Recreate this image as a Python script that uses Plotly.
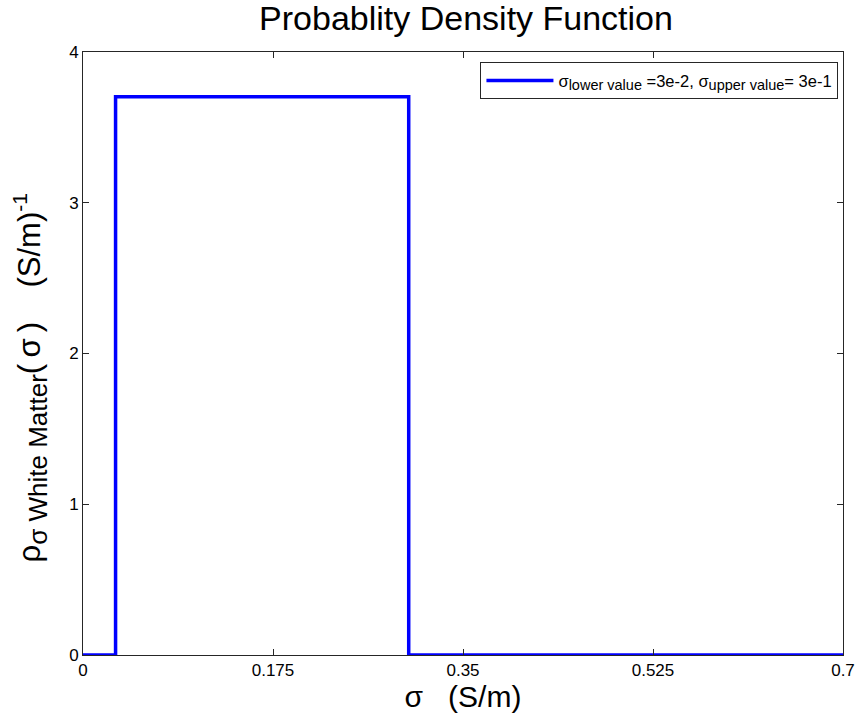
import plotly.graph_objects as go

sigma_lower = 0.03
sigma_upper = 0.3
x_vals = [0, 0.03, 0.03, 0.3, 0.3, 0.7]
pdf_vals = [0, 0, 3.7037, 3.7037, 0, 0]
x_ticks = [0, 0.175, 0.35, 0.525, 0.7]
x_ticklabels = ["0", "0.175", "0.35", "0.525", "0.7"]
y_ticks = [0, 1, 2, 3, 4]

FONT = "Liberation Sans, Arial, sans-serif"
AX = "#262626"

legend_name = ('σ<sub><span style="font-size:14.5px">lower value</span></sub> =3e-2, '
               'σ<sub><span style="font-size:14.5px">upper value</span></sub>= 3e-1')
ytitle = ('ρ<sub><span style="font-size:26px">σ White Matter</span></sub>'
          '(\u2009σ\u2009)\u00a0\u00a0\u00a0\u00a0(S/m)'
          '<sup><span style="font-size:21px">-1</span></sup>')

L, R, T, B = 83, 18, 52, 66
W, H = 867, 721
pw = W - L - R
ph = H - T - B

fig = go.Figure()
fig.add_trace(go.Scatter(
    x=x_vals, y=pdf_vals, mode="lines",
    line=dict(color="#0000FF", width=3.5),
    name=legend_name,
))

fig.add_annotation(
    text=ytitle, textangle=-90, showarrow=False,
    xref="paper", yref="paper",
    x=(30 - L) / pw, xanchor="center",
    y=(H - B - 378) / ph, yanchor="middle",
    font=dict(size=31, family=FONT, color="black"),
)

fig.update_layout(
    width=W, height=H,
    margin=dict(l=L, r=R, t=T, b=B),
    paper_bgcolor="white", plot_bgcolor="white",
    font=dict(family=FONT, color="black", size=14),
    title=dict(text="Probablity Density Function", x=(83 + 849) / 2 / 867, xanchor="center",
               yref="container", y=1 - 18 / 721, yanchor="middle",
               font=dict(size=34, family=FONT)),
    showlegend=True,
    legend=dict(x=0.994, xanchor="right", y=0.983, yanchor="top",
                bgcolor="white", bordercolor=AX, borderwidth=1,
                font=dict(size=16.5, family=FONT), itemwidth=67,
                tracegroupgap=0),
    xaxis=dict(range=[0, 0.7], tickvals=x_ticks, ticktext=x_ticklabels,
               ticks="inside", ticklen=6, tickcolor=AX, showline=True, linecolor=AX,
               linewidth=1, mirror="ticks", showgrid=False, zeroline=False,
               tickfont=dict(size=17), title=dict(text="σ\u00a0\u00a0\u00a0(S/m)",
               font=dict(size=30), standoff=2)),
    yaxis=dict(range=[0, 4], tickvals=y_ticks,
               ticks="inside", ticklen=6, tickcolor=AX, showline=True, linecolor=AX,
               linewidth=1, mirror="ticks", showgrid=False, zeroline=False,
               tickfont=dict(size=17)),
)

fig.write_html("out.html")
